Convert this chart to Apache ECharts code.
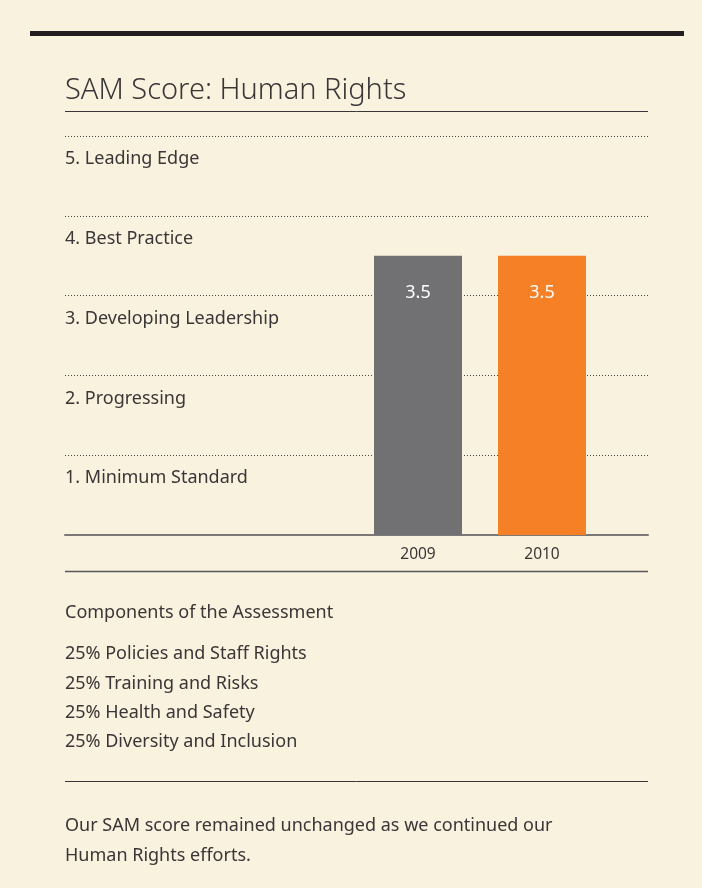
<!DOCTYPE html>
<html>
<head>
<meta charset="utf-8">
<title>SAM Score: Human Rights</title>
<script src="https://cdn.jsdelivr.net/npm/echarts@6/dist/echarts.min.js"></script>
<style>
    html, body { margin: 0; padding: 0; background: #f9f2df; }
    #main { width: 702px; height: 888px; }
</style>
</head>
<body>
<div id="main"></div>
<script>
// data
var years = ['2009', '2010'];
var scores = [3.5, 3.5];
var barColors = ['#717073', '#f58025'];
var levelNames = ['', '1. Minimum Standard', '2. Progressing', '3. Developing Leadership', '4. Best Practice', '5. Leading Edge'];
var components = ['25% Policies and Staff Rights', '25% Training and Risks', '25% Health and Safety', '25% Diversity and Inclusion'];
var noteLines = ['Our SAM score remained unchanged as we continued our', 'Human Rights efforts.'];

var font = '"Noto Sans", Lato, sans-serif';
var ink = '#3a3536';

var myChart = echarts.init(document.getElementById('main'));

function textAt(t, y, size, weight) {
    return {
        type: 'text', x: 65, y: y,
        style: { text: t, font: (weight || 'normal') + ' ' + size + 'px ' + font, fill: ink, verticalAlign: 'middle' }
    };
}

// 文字块
var graphics = [
    { type: 'rect', shape: { x: 30, y: 31, width: 654, height: 5 }, style: { fill: '#231f20' } },
    textAt('SAM Score: Human Rights', 91, 29, '300'),
    { type: 'line', shape: { x1: 65, y1: 111.5, x2: 648, y2: 111.5 }, style: { stroke: '#3a3536', lineWidth: 1 } },
    { type: 'line', shape: { x1: 65, y1: 571.5, x2: 648, y2: 571.5 }, style: { stroke: '#5a5556', lineWidth: 1.5 } },
    textAt('Components of the Assessment', 613, 18),
    { type: 'line', shape: { x1: 65, y1: 781.5, x2: 648, y2: 781.5 }, style: { stroke: '#3a3536', lineWidth: 1 } }
];
components.forEach(function (t, i) {
    graphics.push(textAt(t, 654 + i * 29.4, 18));
});
noteLines.forEach(function (t, i) {
    graphics.push(textAt(t, 826 + i * 30, 18));
});

var option = {
    backgroundColor: '#f9f2df',
    animation: false,
    graphic: graphics,
    grid: [
        { left: 65, right: 54, top: 136, height: 399 },
        { left: 356, width: 248, top: 136, height: 399 }
    ],
    xAxis: [
        {
            gridIndex: 0, type: 'value', min: 0, max: 1, show: true,
            axisLine: { show: true, onZero: false, lineStyle: { color: '#7d7878', width: 2 } },
            axisTick: { show: false }, axisLabel: { show: false }, splitLine: { show: false }
        },
        {
            gridIndex: 1, type: 'category', data: years,
            axisLine: { show: false }, axisTick: { show: false },
            axisLabel: { margin: 12, color: ink, fontSize: 15.5, fontFamily: font }
        }
    ],
    yAxis: [
        {
            gridIndex: 0, type: 'value', min: 0, max: 5, interval: 1,
            axisLine: { show: false }, axisTick: { show: false },
            axisLabel: {
                inside: true, margin: 0, verticalAlign: 'top', padding: [14, 0, 0, 0],
                color: ink, fontSize: 18, fontFamily: font,
                formatter: function (v) { return levelNames[v] || ''; }
            },
            splitLine: { show: true, lineStyle: { type: [1, 2], color: '#4a4546', width: 1 } }
        },
        {
            gridIndex: 1, type: 'value', min: 0, max: 5, show: false
        }
    ],
    series: [
        {
            type: 'bar',
            xAxisIndex: 1,
            yAxisIndex: 1,
            barWidth: 88,
            data: scores.map(function (v, i) {
                return { value: v, itemStyle: { color: barColors[i] } };
            }),
            label: {
                show: true, position: 'insideTop', distance: 28,
                color: '#ffffff', fontSize: 18, fontFamily: font
            }
        }
    ]
};

myChart.setOption(option);
window.onresize = myChart.resize;
</script>
</body>
</html>
